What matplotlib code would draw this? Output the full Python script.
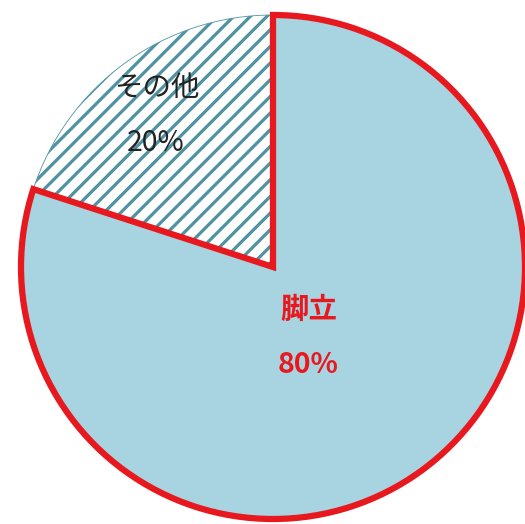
import matplotlib.pyplot as plt

# データ
labels = ['脚立', 'その他']
values = [80, 20]
label_colors = ['#e8191e', '#222222']
bold = ['bold', 'normal']

plt.rcParams['font.family'] = ['Noto Sans CJK JP', 'DejaVu Sans']
plt.rcParams['hatch.linewidth'] = 2.3
plt.rcParams['hatch.color'] = '#4f93a3'

fig = plt.figure(figsize=(5.25, 5.24), dpi=100)
ax = fig.add_axes([0, 0, 1, 1])

cx, cy, r = 273, 257, 252

wedges, _ = ax.pie(values, startangle=90, counterclock=False,
                   center=(cx, cy), radius=r, frame=True,
                   colors=['#a7d4e0', 'white'])
ax.set_xlim(0, 525)
ax.set_ylim(0, 524)
ax.set_aspect('equal')
ax.axis('off')

# 脚立: 赤い枠線
wedges[0].set_edgecolor('#e8191e')
wedges[0].set_linewidth(4.5)
wedges[0].set_zorder(3)
wedges[0].set_joinstyle('miter')

# その他: 斜線
wedges[1].set_hatch('//')
wedges[1].set_edgecolor('#4f93a3')
wedges[1].set_linewidth(0.6)
wedges[1].set_zorder(2)

# ラベル
pos = [(309, 214), (157, 436)]
for i in range(len(labels)):
    x, y = pos[i]
    ax.text(x, y, labels[i], ha='center', va='center', fontsize=20.5,
            color=label_colors[i], fontweight=bold[i], zorder=5)
    ax.text(x - 1, y - 55, f'{values[i]}%', ha='center', va='center', fontsize=20.5,
            color=label_colors[i], fontweight=bold[i], zorder=5)

fig.savefig('out.png', dpi=100)
